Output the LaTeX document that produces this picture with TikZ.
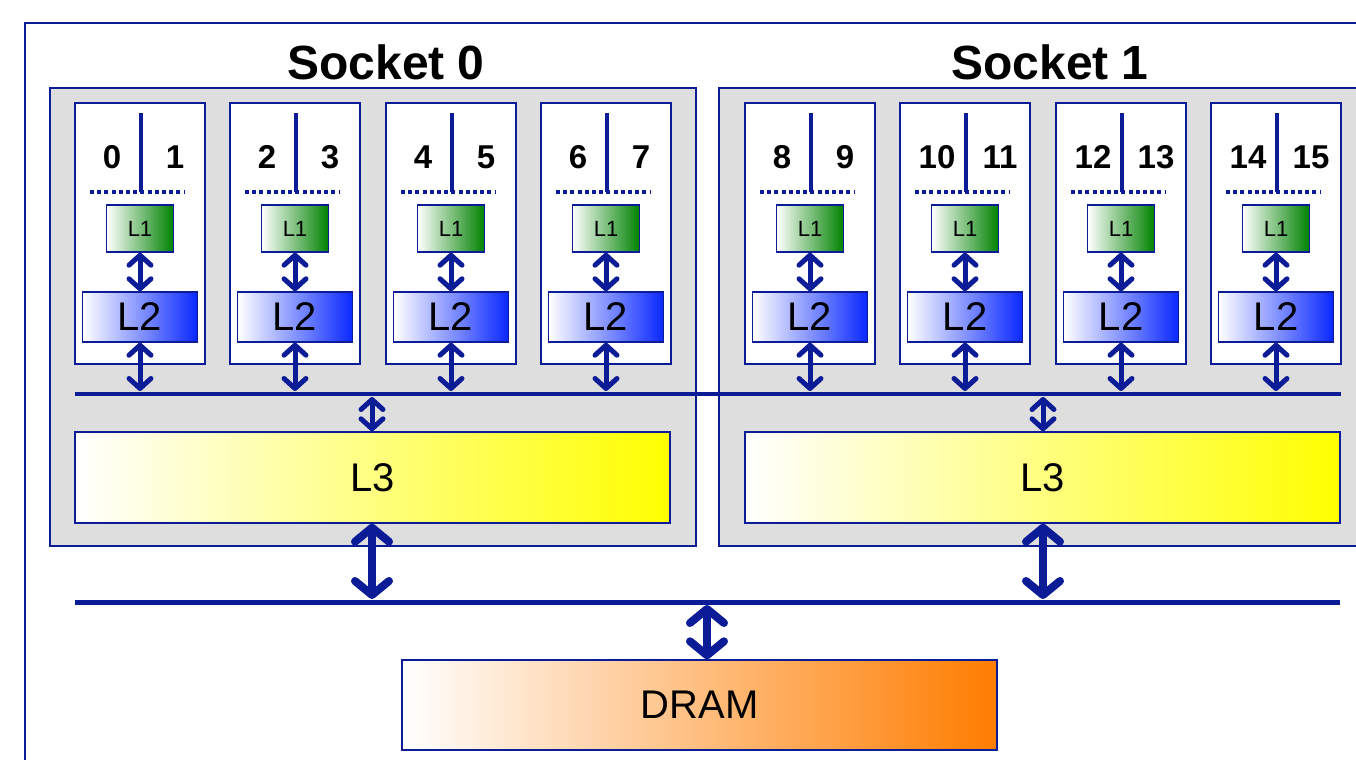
\documentclass[tikz,border=0pt]{standalone}
\usepackage{fontspec}
\setmainfont{Liberation Sans}
\usetikzlibrary{arrows.meta,positioning,calc}
\definecolor{navy}{RGB}{12,28,150}
\definecolor{socketgray}{RGB}{222,222,222}
\definecolor{lonegreen}{RGB}{0,130,0}
\definecolor{ltwoblue}{RGB}{10,40,255}
\definecolor{lthreeyellow}{RGB}{255,255,0}
\definecolor{dramorange}{RGB}{255,125,0}

\begin{document}
\begin{tikzpicture}[x=0.5pt,y=-0.5pt,
    box/.style={draw=navy,line width=0.7pt,inner sep=0pt},
    sock/.style={box,fill=socketgray},
    core/.style={box,fill=white,minimum width=65pt,minimum height=130.5pt},
    lone/.style={box,left color=white,right color=lonegreen,minimum width=33.5pt,minimum height=23.5pt,font=\fontsize{11}{11}\selectfont},
    ltwo/.style={box,left color=white,right color=ltwoblue,minimum width=57.5pt,minimum height=25pt,font=\fontsize{20}{20}\selectfont},
    lthree/.style={box,left color=white,right color=lthreeyellow,minimum width=297.5pt,minimum height=45.5pt,font=\fontsize{20}{20}\selectfont},
    dramstyle/.style={box,left color=white,right color=dramorange,minimum width=297.5pt,minimum height=45pt,font=\fontsize{20}{20}\selectfont},
    title/.style={font=\bfseries\fontsize{24}{24}\selectfont},
    num/.style={font=\bfseries\fontsize{16.5}{16.5}\selectfont,inner sep=0pt},
    split/.style={navy,line width=2pt},
    dots/.style={navy,line width=2pt,dash pattern=on 2pt off 1.6pt},
    bus/.style={navy,line width=2pt},
    biarrow/.style={navy,line width=2.5pt,{Straight Barb[round,length=5pt,width=11pt]}-{Straight Barb[round,length=5pt,width=11pt]}},
    bigarrow/.style={navy,line width=4pt,{Straight Barb[round,length=7pt,width=17pt]}-{Straight Barb[round,length=7pt,width=17pt]}}]
    \useasboundingbox (0,0) rectangle (1356,760);
    \clip (0,0) rectangle (1356,760);
    % outer frame and sockets
    \draw[navy,line width=1pt] (25,23) rectangle (1400,800);
    \draw[sock] (50,88) rectangle (696,546);
    \draw[sock] (719,88) rectangle (1400,546);
    \node[title] (title0) at (386,62) {Socket 0};
    \node[title] (title1) at (1050,62) {Socket 1};
    % cores
    \coordinate (busw) at (75,394);
    \coordinate (buse) at (1341,394);
    \foreach \cx/\a/\b [count=\i] in {140/0/1,295/2/3,451/4/5,606/6/7,810/8/9,965/10/11,1121/12/13,1276/14/15}{
        \node[core] (core\i) at (\cx,233.5) {};
        \node[num] (n\a) at (\cx-28,157) {\a};
        \node[num] (n\b) at (\cx+35,157) {\b};
        \draw[split] (\cx+1,113) -- (\cx+1,192);
        \draw[dots] (\cx-50,192) -- (\cx+44,192);
        \node[lone] (lone\i) at (\cx,228.5) {L1};
        \node[ltwo] (ltwo\i) at (\cx,317) {L2};
        \coordinate (tap\i) at (\cx,391);
        \draw[biarrow] (lone\i) -- (ltwo\i);
        \draw[biarrow] (ltwo\i) -- (tap\i);
    }
    \draw[bus] (busw) -- (buse);
    % shared caches
    \node[lthree] (lthree0) at (372.5,477.5) {\raisebox{-2pt}{L3}};
    \node[lthree] (lthree1) at (1042.5,477.5) {\raisebox{-2pt}{L3}};
    \coordinate (ltap0) at (372,397);
    \coordinate (ltap1) at (1043,397);
    \draw[biarrow] (ltap0) -- (ltap0 |- lthree0.north);
    \draw[biarrow] (ltap1) -- (ltap1 |- lthree1.north);
    % memory bus and DRAM
    \coordinate (memw) at (75,602);
    \coordinate (meme) at (1340,602);
    \draw[navy,line width=2.5pt] (memw) -- (meme);
    \coordinate (mtap0) at (372,599);
    \coordinate (mtap1) at (1043,599);
    \draw[bigarrow] (mtap0 |- lthree0.south) -- (mtap0);
    \draw[bigarrow] (mtap1 |- lthree1.south) -- (mtap1);
    \node[dramstyle] (dram) at (699.5,705) {\raisebox{-1.5pt}{DRAM}};
    \coordinate (dtap) at (707,605);
    \draw[bigarrow] (dtap) -- (dtap |- dram.north);
\end{tikzpicture}
\end{document}
